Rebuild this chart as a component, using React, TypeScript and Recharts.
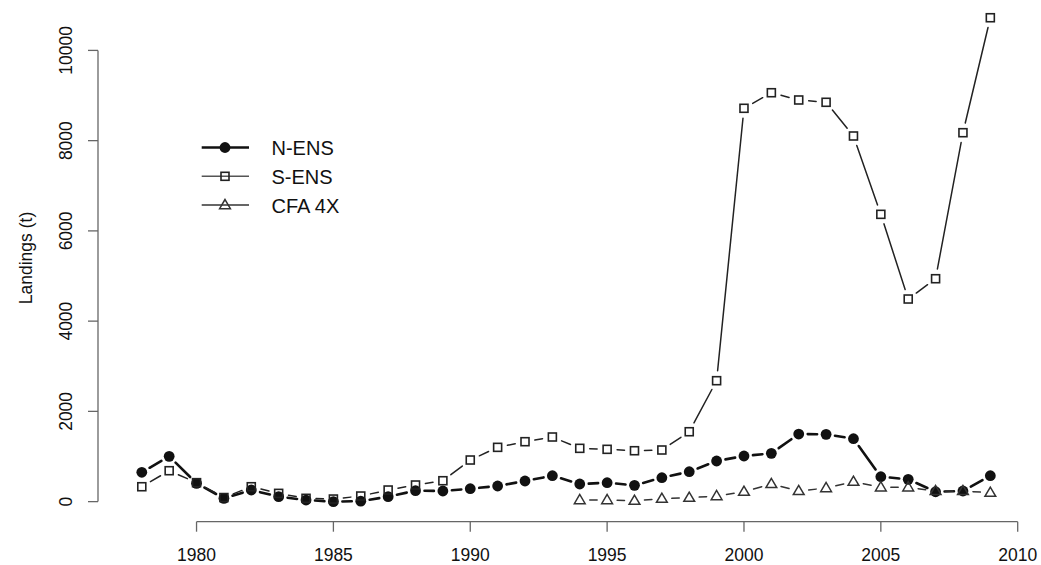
import React from 'react';
import { LineChart, Line, XAxis, YAxis, ReferenceLine, Legend } from 'recharts';

// Annual landings (t) by area
const years = [
  1978, 1979, 1980, 1981, 1982, 1983, 1984, 1985, 1986, 1987, 1988, 1989, 1990, 1991, 1992, 1993,
  1994, 1995, 1996, 1997, 1998, 1999, 2000, 2001, 2002, 2003, 2004, 2005, 2006, 2007, 2008, 2009,
];
const nEns = [
  650, 1004, 405, 73, 257, 110, 35, 0, 10, 110, 242, 235, 286, 346, 457, 574,
  390, 419, 361, 530, 663, 900, 1011, 1070, 1498, 1491, 1394, 552, 494, 219, 235, 574,
];
const sEns = [
  330, 685, 420, 90, 330, 183, 73, 57, 124, 257, 368, 463, 922, 1203, 1328, 1432,
  1181, 1159, 1128, 1144, 1549, 2680, 8717, 9062, 8901, 8850, 8103, 6367, 4490, 4940, 8176, 10724,
];
const cfa4x: (number | null)[] = [
  null, null, null, null, null, null, null, null, null, null, null, null, null, null, null, null,
  35, 35, 20, 64, 86, 124, 219, 390, 235, 301, 441, 317, 317, 235, 235, 197,
];

const seriesNames = ['N-ENS', 'S-ENS', 'CFA 4X'];
const xTicks = [1980, 1985, 1990, 1995, 2000, 2005, 2010];
const yTicks = [0, 2000, 4000, 6000, 8000, 10000];

const data = years.map((year, i) => ({ year, nEns: nEns[i], sEns: sEns[i], cfa4x: cfa4x[i] }));

const X_MIN = 1976.4;
const X_MAX = 2010;
const Y_MIN = -445;
const Y_MAX = 11000;

const FONT = "'Liberation Sans', Arial, Helvetica, sans-serif";
const AXIS_GREY = '#666';

type MarkerKind = 'circle' | 'square' | 'triangle';

function marker(kind: MarkerKind, cx: number, cy: number) {
  if (kind === 'circle') return <circle cx={cx} cy={cy} r={5.4} fill="#111" />;
  if (kind === 'square')
    return <rect x={cx - 4} y={cy - 4} width={8} height={8} fill="none" stroke="#222" strokeWidth={1.6} />;
  return (
    <polygon
      points={`${cx},${cy - 5.6} ${cx - 5.4},${cy + 3.6} ${cx + 5.4},${cy + 3.6}`}
      fill="none"
      stroke="#333"
      strokeWidth={1.5}
      strokeLinejoin="miter"
    />
  );
}

// Point-and-line style: each segment stops short of the markers at both ends.
function makeDot(kind: MarkerKind, color: string, width: number, gap: number) {
  let prev: { x: number; y: number; year: number } | null = null;
  return (props: any) => {
    const { cx, cy, index, payload } = props;
    const year = payload?.year;
    if (cx == null || cy == null || Number.isNaN(cy)) {
      prev = null;
      return <g key={`dot-${index}`} />;
    }
    let from: { x: number; y: number } | null = null;
    if (Array.isArray(props.points) && index > 0) {
      const p = props.points[index - 1];
      if (p && p.x != null && p.y != null) from = { x: p.x, y: p.y };
    } else if (prev && prev.year === year - 1) {
      from = prev;
    }
    prev = { x: cx, y: cy, year };
    let seg = null;
    if (from) {
      const dx = cx - from.x;
      const dy = cy - from.y;
      const d = Math.hypot(dx, dy);
      if (d > 2 * gap) {
        const ux = dx / d;
        const uy = dy / d;
        seg = (
          <line
            x1={from.x + ux * gap}
            y1={from.y + uy * gap}
            x2={cx - ux * gap}
            y2={cy - uy * gap}
            stroke={color}
            strokeWidth={width}
            strokeLinecap="round"
          />
        );
      }
    }
    return (
      <g key={`dot-${index}`}>
        {seg}
        {marker(kind, cx, cy)}
      </g>
    );
  };
}

const legendRows: { name: string; kind: MarkerKind; color: string; width: number }[] = [
  { name: seriesNames[0], kind: 'circle', color: '#111', width: 2.6 },
  { name: seriesNames[1], kind: 'square', color: '#555', width: 1.5 },
  { name: seriesNames[2], kind: 'triangle', color: '#333', width: 1.5 },
];

function LegendBox() {
  return (
    <svg width={200} height={100} style={{ display: 'block' }}>
      {legendRows.map((r, i) => {
        const y = 19.5 + i * 28.8;
        return (
          <g key={r.name}>
            <line x1={11.7} x2={59} y1={y} y2={y} stroke={r.color} strokeWidth={r.width} />
            {marker(r.kind, 35, y)}
            <text x={81.5} y={y + 7.6} fontSize={20} fontFamily={FONT} fill="#111">
              {r.name}
            </text>
          </g>
        );
      })}
    </svg>
  );
}

const XTick = (props: any) => {
  const { x, y, payload } = props;
  return (
    <text x={x} y={y + 27.3} textAnchor="middle" fontSize={17.5} fontFamily={FONT} fill="#111">
      {payload.value}
    </text>
  );
};

const YTick = (props: any) => {
  const { x, y, payload } = props;
  return (
    <text
      transform={`translate(${x - 14},${y}) rotate(-90)`}
      textAnchor="middle"
      fontSize={17.5}
      fontFamily={FONT}
      fill="#111"
    >
      {payload.value}
    </text>
  );
};

const YLabel = () => (
  <text
    transform="translate(31.5,258) rotate(-90)"
    textAnchor="middle"
    fontSize={17.5}
    fontFamily={FONT}
    fill="#111"
  >
    Landings (t)
  </text>
);

export default function App() {
  return (
    <div style={{ position: 'absolute', left: 0, top: 0, width: 1041, height: 565, background: '#fff' }}>
      <LineChart
        width={1041}
        height={565}
        data={data}
        margin={{ top: 5.28, right: 23.3, bottom: 0, left: 0 }}
      >
        <XAxis
          dataKey="year"
          type="number"
          domain={[X_MIN, X_MAX]}
          allowDataOverflow
          ticks={xTicks}
          height={43.3}
          axisLine={false}
          tickSize={10}
          tickMargin={2}
          tickLine={{ stroke: AXIS_GREY, strokeWidth: 1.3 }}
          tick={<XTick />}
        />
        <YAxis
          type="number"
          domain={[Y_MIN, Y_MAX]}
          allowDataOverflow
          ticks={yTicks}
          width={98}
          axisLine={false}
          tickSize={10}
          tickMargin={2}
          tickLine={{ stroke: AXIS_GREY, strokeWidth: 1.3 }}
          tick={<YTick />}
          label={{ content: <YLabel /> }}
        />
        <ReferenceLine
          segment={[
            { x: X_MIN, y: 0 },
            { x: X_MIN, y: 10000 },
          ]}
          stroke={AXIS_GREY}
          strokeWidth={1.3}
          ifOverflow="visible"
        />
        <ReferenceLine
          segment={[
            { x: 1980, y: Y_MIN },
            { x: 2010, y: Y_MIN },
          ]}
          stroke={AXIS_GREY}
          strokeWidth={1.3}
          ifOverflow="visible"
        />
        <Line
          dataKey="nEns"
          name={seriesNames[0]}
          stroke="none"
          isAnimationActive={false}
          dot={makeDot('circle', '#111', 2.6, 9)}
          activeDot={false}
        />
        <Line
          dataKey="sEns"
          name={seriesNames[1]}
          stroke="none"
          isAnimationActive={false}
          dot={makeDot('square', '#222', 1.5, 10)}
          activeDot={false}
        />
        <Line
          dataKey="cfa4x"
          name={seriesNames[2]}
          stroke="none"
          isAnimationActive={false}
          dot={makeDot('triangle', '#333', 1.5, 10)}
          activeDot={false}
        />
        <Legend
          layout="vertical"
          align="center"
          verticalAlign="middle"
          wrapperStyle={{ left: 190, top: 128, width: 200, height: 100 }}
          content={() => <LegendBox />}
        />
      </LineChart>
    </div>
  );
}
